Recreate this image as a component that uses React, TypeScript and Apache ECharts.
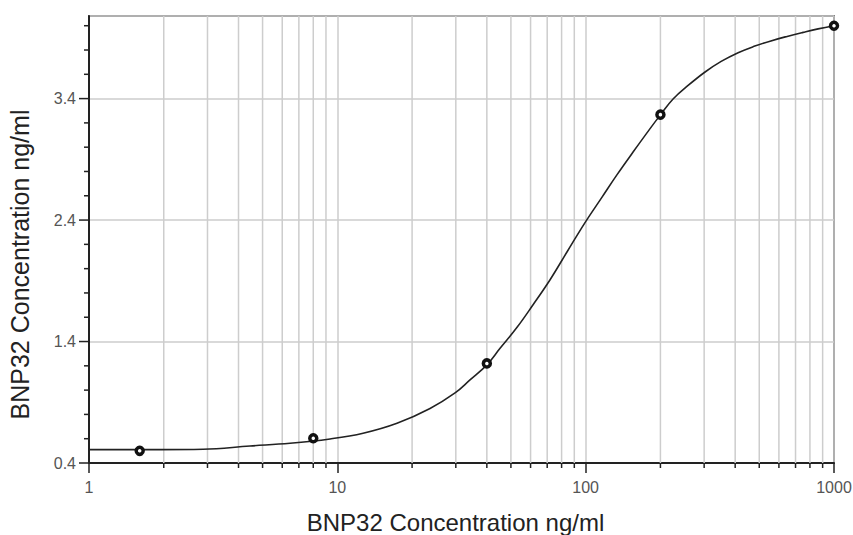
import React, { useEffect, useRef } from "react";
import * as echarts from "echarts";

// Measured standards (x: concentration, y: reading)
const pointX = [1.6, 8, 40, 200, 1000];
const pointY = [0.5, 0.604, 1.22, 3.268, 4.0];

// Fitted curve
const curveX = [1, 1.93, 2.88, 4.45, 6.45, 9.35, 12.7, 17.39, 23.62, 29.79, 34.22, 40, 45.21, 52.93, 61.4, 71.9, 84.2, 99.4, 116.4, 133.8, 155.2, 181.7, 200, 224.9, 258.5, 302.6, 351.3, 411, 476.6, 552.8, 647.5, 750.8, 862.9, 1000];
const curveY = [0.51, 0.51, 0.513, 0.54, 0.562, 0.598, 0.645, 0.727, 0.849, 0.977, 1.084, 1.208, 1.344, 1.517, 1.703, 1.909, 2.139, 2.379, 2.589, 2.774, 2.96, 3.153, 3.266, 3.397, 3.508, 3.619, 3.706, 3.778, 3.83, 3.873, 3.912, 3.945, 3.974, 4.0];

// Axes
const X_MIN = 1;
const X_MAX = 1000;
const Y_MIN = 0.4;
const Y_MAX = 4.08;
const xMinor = [2, 3, 4, 5, 6, 7, 8, 9, 20, 30, 40, 50, 60, 70, 80, 90, 200, 300, 400, 500, 600, 700, 800, 900];
const yMajor = [0.4, 1.4, 2.4, 3.4];
const yMinor = [0.6, 0.8, 1.0, 1.2, 1.6, 1.8, 2.0, 2.2, 2.6, 2.8, 3.0, 3.2, 3.6, 3.8, 4.0];

const TITLE = "BNP32 Concentration ng/ml";

export default function App() {
  const ref = useRef<HTMLDivElement>(null);
  useEffect(() => {
    if (!ref.current) return;
    const chart = echarts.init(ref.current, null, { renderer: "svg" });
    const font = "'Liberation Sans', Arial, sans-serif";
    chart.setOption({
      animation: false,
      backgroundColor: "#fff",
      grid: {
        left: 89,
        right: 19,
        top: 16,
        bottom: 72,
        outerBoundsMode: "none",
        containLabel: false,
        show: true,
        borderColor: "#222",
        borderWidth: 1.5,
        backgroundColor: "transparent",
      },
      xAxis: {
        type: "log",
        logBase: 10,
        min: X_MIN,
        max: X_MAX,
        name: TITLE,
        nameLocation: "middle",
        nameGap: 47,
        nameTextStyle: { fontFamily: font, fontSize: 24, color: "#222", padding: [0, 12, 0, 0] },
        axisLine: { show: true, lineStyle: { color: "#222", width: 2 } },
        axisTick: { show: true, length: 10, lineStyle: { color: "#222", width: 1.5 } },
        axisLabel: {
          fontFamily: font,
          fontSize: 16,
          color: "#555",
          margin: 16,
          formatter: (v: number) => String(Math.round(v)),
        },
        splitLine: { show: true, lineStyle: { color: "#cdcdcd", width: 1.5 } },
      },
      yAxis: {
        type: "value",
        min: Y_MIN,
        max: Y_MAX,
        interval: 1,
        name: TITLE,
        nameLocation: "middle",
        nameGap: 57,
        nameTextStyle: { fontFamily: font, fontSize: 25, color: "#222", padding: [0, 0, 0, -50] },
        axisLine: { show: true, lineStyle: { color: "#222", width: 2 } },
        axisTick: { show: false },
        axisLabel: {
          fontFamily: font,
          fontSize: 16,
          color: "#555",
          margin: 13,
          showMaxLabel: false,
          formatter: (v: number) => v.toFixed(1),
        },
        splitLine: { show: true, lineStyle: { color: "#cdcdcd", width: 1.5 } },
      },
      series: [
        {
          type: "custom",
          z: 1,
          silent: true,
          data: xMinor.map((v) => [v, Y_MIN]),
          renderItem: (_p: any, api: any) => {
            const v = api.value(0);
            const b = api.coord([v, Y_MIN]);
            const t = api.coord([v, Y_MAX]);
            return {
              type: "group",
              children: [
                { type: "line", shape: { x1: b[0], y1: t[1], x2: b[0], y2: b[1] }, style: { stroke: "#cdcdcd", lineWidth: 1.5 } },
                { type: "line", shape: { x1: b[0], y1: b[1], x2: b[0], y2: b[1] + 5 }, style: { stroke: "#222", lineWidth: 1.5 } },
              ],
            };
          },
        },
        {
          type: "custom",
          z: 3,
          silent: true,
          data: [...yMajor.map((v) => [X_MIN, v, 10]), ...yMinor.map((v) => [X_MIN, v, 5])],
          renderItem: (_p: any, api: any) => {
            const p = api.coord([api.value(0), api.value(1)]);
            const len = api.value(2);
            return {
              type: "line",
              shape: { x1: p[0] - len, y1: p[1], x2: p[0], y2: p[1] },
              style: { stroke: "#222", lineWidth: 1.5 },
            };
          },
        },
        {
          type: "line",
          z: 4,
          data: curveX.map((x, i) => [x, curveY[i]]),
          smooth: 0.4,
          showSymbol: false,
          symbol: "none",
          lineStyle: { color: "#222", width: 1.6 },
          silent: true,
        },
        {
          type: "scatter",
          z: 5,
          data: pointX.map((x, i) => [x, pointY[i]]),
          symbol: "circle",
          symbolSize: 7,
          itemStyle: { color: "#fff", borderColor: "#111", borderWidth: 3.5, opacity: 1 },
          silent: true,
        },
      ],
    });
    return () => chart.dispose();
  }, []);
  return <div ref={ref} style={{ width: 853, height: 535, position: "absolute", left: 0, top: 0 }} />;
}
